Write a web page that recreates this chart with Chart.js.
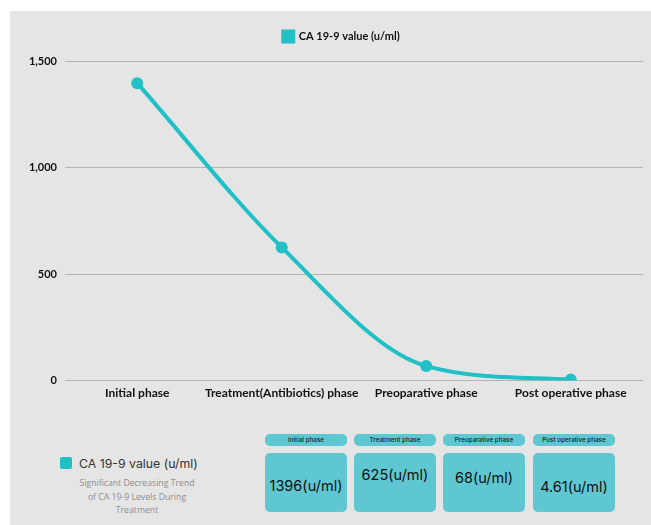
<!DOCTYPE html>
<html>
<head>
<meta charset="utf-8">
<script src="https://cdn.jsdelivr.net/npm/chart.js@4.4.0/dist/chart.umd.min.js"></script>
<style>
  html, body { margin: 0; padding: 0; background: #fff; }
  body { width: 651px; height: 525px; position: relative; overflow: hidden; font-family: 'Open Sans', sans-serif; }
  #panel { position: absolute; left: 10px; top: 11px; width: 641px; height: 514px; background: #e5e5e5; }
  #chartWrap { position: absolute; left: 0; top: 0; width: 641px; height: 400px; }
  #legendBox { position: absolute; left: 50px; top: 445px; width: 150px; text-align: center; }
  #legendBox .title { font-family: 'Inter', sans-serif; font-size: 12.3px; color: #333; text-align: left; }
  #legendBox .sw { display: inline-block; width: 12px; height: 12px; background: #21bfc6; border-radius: 2px; vertical-align: -1px; margin-right: 7px; }
  #legendBox .sub { font-family: 'Open Sans', sans-serif; font-size: 8.7px; color: #8e8e8e; line-height: 13.5px; margin-top: 6px; padding-left: 4px; }
  .cell { position: absolute; width: 82px; }
  .cell .hd { height: 12px; background: #5fc7d2; border-radius: 5px; font-family: 'Inter', sans-serif; font-size: 6.3px; font-weight: 500; color: #1a1a1a; text-align: center; line-height: 12px; }
  .cell .bx { margin-top: 7px; height: 59px; background: #5fc7d2; border-radius: 5px; font-family: 'Inter', sans-serif; font-size: 14.5px; color: #111; text-align: center; }
</style>
</head>
<body>
<div id="panel">
  <div id="chartWrap"><canvas id="chart"></canvas></div>
  <div id="legendBox">
    <div class="title"><span class="sw"></span>CA 19-9 value (u/ml)</div>
    <div class="sub">Significant Decreasing Trend<br>of CA 19-9 Levels During<br>Treatment</div>
  </div>
  <div id="cells"></div>
</div>
<script>
const categories = ['Initial phase', 'Treatment(Antibiotics) phase', 'Preoparative phase', 'Post operative phase'];
const caValues = [1396, 625, 68, 4.61];
const seriesLabel = 'CA 19-9 value (u/ml)';
const yTicks = [0, 500, 1000, 1500];
const boxLabels = ['Initial phase', 'Treatment phase', 'Preoparative phase', 'Post operative phase'];
const boxUnit = '(u/ml)';

// summary boxes under the chart
const cellLeft = [255, 344, 433, 523];
const cellTextTop = [24, 13, 16, 25];
const cellsDiv = document.getElementById('cells');
for (let i = 0; i < boxLabels.length; i++) {
    let c = document.createElement('div');
    c.className = 'cell';
    c.style.left = cellLeft[i] + 'px';
    c.style.top = '423px';
    c.innerHTML = `<div class="hd">${boxLabels[i]}</div><div class="bx"><div style="padding-top:${cellTextTop[i]}px">${caValues[i]}${boxUnit}</div></div>`;
    cellsDiv.appendChild(c);
}

const teal = '#21bfc6';
const ctx = document.getElementById('chart').getContext('2d');

// extra room between the legend and the plot, and nudge legend to the right
const legendTweak = {
    id: 'legendTweak',
    beforeInit(chart) {
        const fit = chart.legend.fit;
        chart.legend.fit = function () {
            fit.bind(chart.legend)();
            this.height += 9;
        };
    },
    afterLayout(chart) {
        chart.legend.left += 15;
        chart.legend.right += 15;
    }
};

new Chart(ctx, {
    type: 'line',
    data: {
        labels: categories,
        datasets: [{
            label: seriesLabel,
            data: caValues,
            borderColor: teal,
            backgroundColor: teal,
            borderWidth: 4,
            pointRadius: 6,
            pointBackgroundColor: teal,
            pointBorderWidth: 0,
            cubicInterpolationMode: 'monotone'
        }]
    },
    plugins: [legendTweak],
    options: {
        responsive: true,
        maintainAspectRatio: false,
        animation: false,
        layout: { padding: { top: 10, right: 8, bottom: 6, left: 0 } },
        plugins: {
            legend: {
                labels: {
                    boxWidth: 10,
                    boxHeight: 10,
                    color: '#111',
                    font: { family: 'Lato', size: 11, weight: 'bold' }
                }
            },
            tooltip: { enabled: false }
        },
        scales: {
            x: {
                offset: true,
                grid: { display: false, drawTicks: false },
                border: { display: false },
                ticks: {
                    color: '#111',
                    padding: 5,
                    maxRotation: 0,
                    autoSkip: false,
                    font: { family: 'Lato', size: 12, weight: 'bold' }
                }
            },
            y: {
                min: 0,
                max: 1500,
                afterFit: function (scale) { scale.width = 55; },
                afterBuildTicks: function (scale) { scale.ticks = yTicks.map(v => ({ value: v })); },
                grid: { color: '#b4b4b4', drawTicks: false, lineWidth: 1 },
                border: { display: false },
                ticks: {
                    color: '#111',
                    padding: 8,
                    font: { family: 'Lato', size: 11, weight: 'bold' },
                    callback: v => v.toLocaleString('en-US')
                }
            }
        }
    }
});
</script>
</body>
</html>
